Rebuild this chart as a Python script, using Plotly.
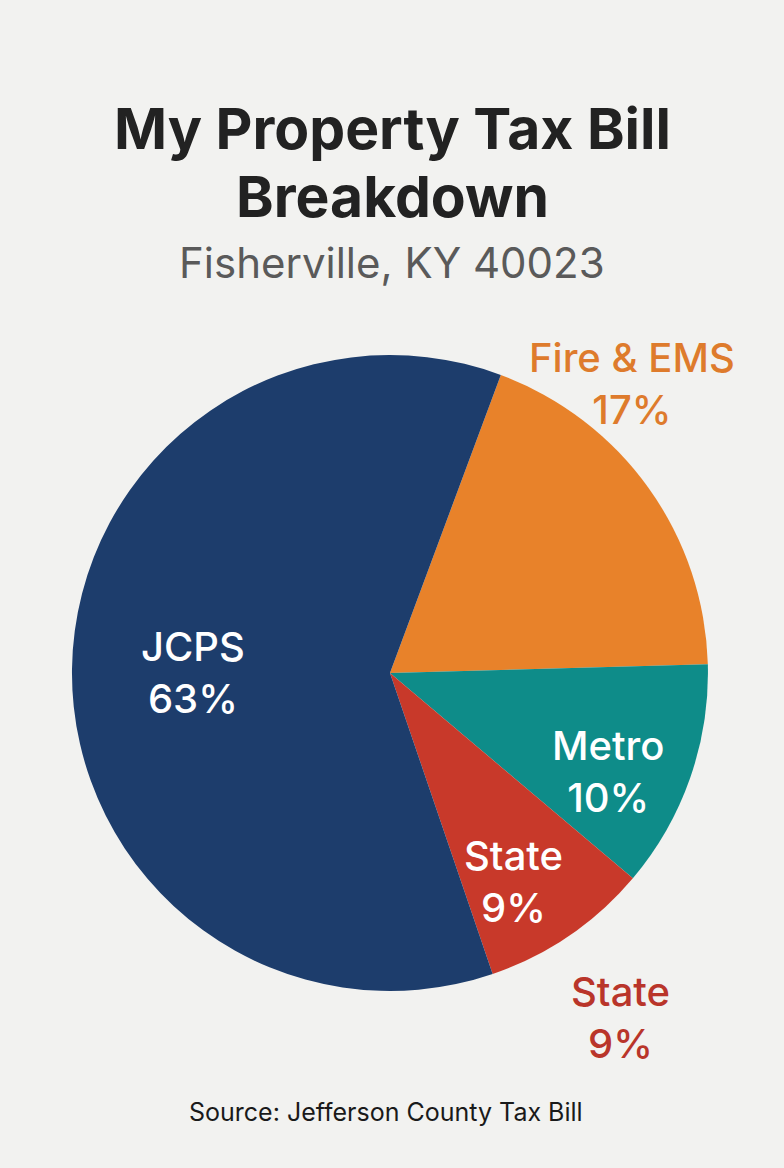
import plotly.graph_objects as go

# slices, clockwise from the Fire & EMS / JCPS boundary
labels = ['Fire & EMS', 'Metro', 'State', 'JCPS']
shares = [18.9, 11.6, 8.6, 60.9]          # drawn slice sizes
pct_text = ['17%', '10%', '9%', '63%']    # printed labels
colors = ['#E8822A', '#0E8C89', '#C8392A', '#1D3D6C']

title_lines = ['My Property Tax Bill', 'Breakdown']
subtitle = 'Fisherville, KY 40023'
source = 'Source: Jefferson County Tax Bill'

W, H = 784, 1168
font = 'Inter, Roboto, sans-serif'

fig = go.Figure()

fig.add_trace(go.Pie(labels=labels,
                     values=shares,
                     marker=dict(colors=colors, line=dict(width=0)),
                     sort=False,
                     direction='clockwise',
                     rotation=20.4,
                     textinfo='none',
                     hoverinfo='label',
                     showlegend=False,
                     domain=dict(x=[0.0918, 0.903], y=[0.1515, 0.6961])))


def note(text, x, y, size, color, weight=400):
    fig.add_annotation(x=x / W, y=1 - y / H, xref='paper', yref='paper',
                       xanchor='center', yanchor='middle',
                       text=text, showarrow=False, align='center',
                       font=dict(family=font, size=size, color=color, weight=weight))


# slice labels (inside in white, outside in slice colour)
def lab(i, x, y, color):
    note(labels[i] + '<br>' + pct_text[i], x, y, 40, color, 500)


lab(3, 193, 672, 'white')
lab(1, 608, 771, 'white')
lab(2, 513, 881, 'white')
lab(0, 632, 383, '#DE7B2C')
lab(2, 620, 1017, '#B9352A')

# title, subtitle, source
note(title_lines[0], 392, 128, 57, '#222222', 700)
note(title_lines[1], 392, 196, 57, '#222222', 700)
note(subtitle, 392, 262, 42, '#5A5A5A')
note(source, 386, 1112, 25, '#1A1A1A')

fig.update_layout(width=W, height=H,
                  margin=dict(l=0, r=0, t=0, b=0),
                  paper_bgcolor='#F2F2F0',
                  plot_bgcolor='#F2F2F0')

fig.write_html("out.html", config={'displayModeBar': False},
               post_script="document.body.style.margin='0';")
